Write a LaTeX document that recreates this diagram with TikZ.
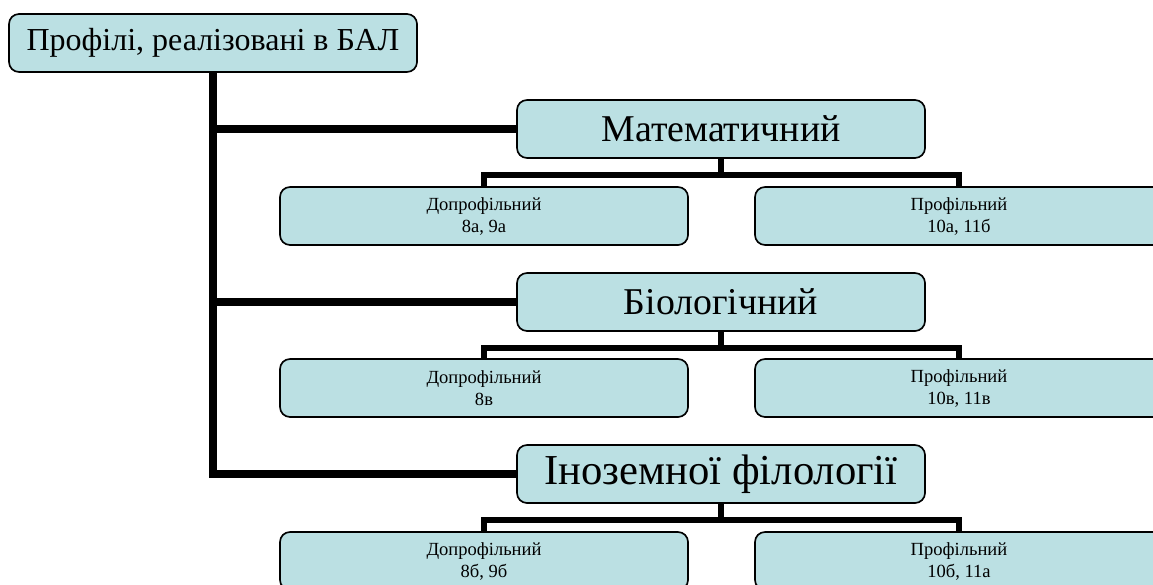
\documentclass[tikz,border=0pt]{standalone}
\usepackage{fontspec}
\setmainfont{Liberation Serif}
\usepackage{xcolor}
\usetikzlibrary{calc}

\definecolor{boxfill}{RGB}{187,224,227}

\tikzset{
    profbox/.style={draw=black, line width=1.25pt, fill=boxfill, rounded corners=7.5pt,
        minimum width=306pt, minimum height=43.5pt, inner sep=2pt, align=center},
    rootbox/.style={profbox, font=\fontsize{24}{28}\selectfont},
    headbox/.style={profbox, font=\fontsize{28.4}{33}\selectfont},
    bigheadbox/.style={profbox, font=\fontsize{32}{38}\selectfont},
    subbox/.style={profbox, font=\fontsize{13.9}{16.5}\selectfont},
    trunk/.style={line width=5.5pt},
    bar/.style={line width=4.5pt}
}

\begin{document}
\begin{tikzpicture}[x=0.75pt, y=-0.75pt]
    \useasboundingbox (0,0) rectangle (1153,585);
    \clip (0,0) rectangle (1153,585);

    % Root
    \node[rootbox] (root) at (213,43) {Профілі, реалізовані в БАЛ};

    % Profiles
    \node[headbox] (mat) at (721,129) {Математичний};
    \node[headbox] (bio) at (721,302) {Біологічний};
    \node[bigheadbox] (ino) at (721,474) {Іноземної філології};

    % Levels
    \node[subbox] (matpre) at (484,216) {Допрофільний\\8а, 9а};
    \node[subbox] (matpro) at (959,216) {Профільний\\10а, 11б};
    \node[subbox] (biopre) at (484,388) {Допрофільний\\8в};
    \node[subbox] (biopro) at (959,388) {Профільний\\10в, 11в};
    \node[subbox] (inopre) at (484,561) {Допрофільний\\8б, 9б};
    \node[subbox] (inopro) at (959,561) {Профільний\\10б, 11а};

    % Trunk and branches
    \draw[trunk] (root.south) |- (ino.west);
    \foreach \p in {mat, bio}
        \draw[trunk] (root.south |- \p.west) -- (\p.west);

    % Bars to levels
    \foreach \p in {mat, bio, ino} {
        \draw[bar] (\p.south) -- ++(0,16) -| (\p pre.north);
        \draw[bar] (\p.south) -- ++(0,16) -| (\p pro.north);
    }
\end{tikzpicture}
\end{document}
